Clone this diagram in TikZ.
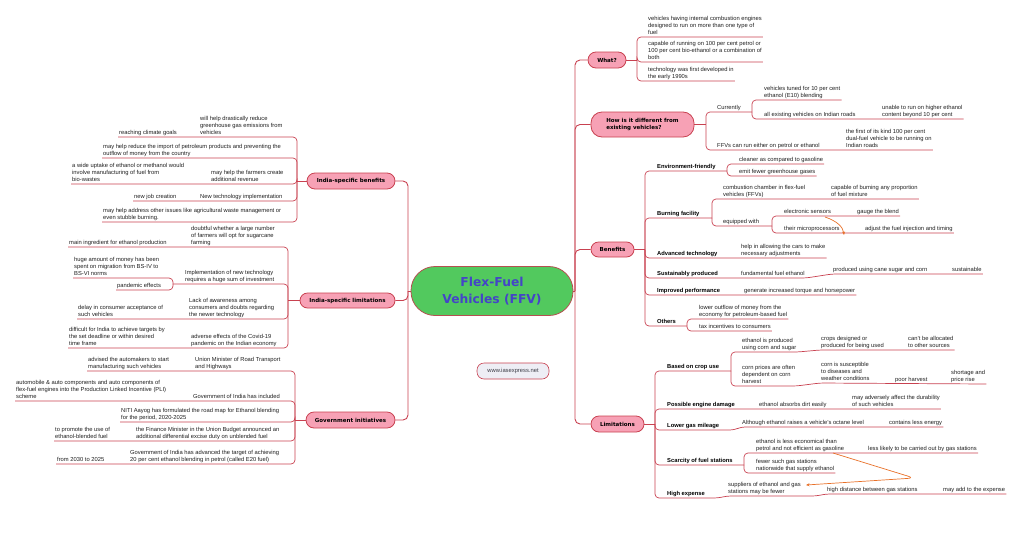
\documentclass[tikz,border=0pt]{standalone}
\usepackage{fontspec}
\setmainfont{Liberation Sans}
\newfontfamily\dvfont{DejaVu Sans}
\usetikzlibrary{arrows.meta}
\definecolor{lc}{RGB}{200,65,80}
\definecolor{pinkf}{RGB}{247,161,181}
\definecolor{greenf}{RGB}{82,201,94}
\definecolor{bluet}{RGB}{68,68,200}
\definecolor{arrc}{RGB}{232,112,40}
\definecolor{wmf}{RGB}{238,238,245}
\definecolor{txc}{RGB}{30,30,30}
\definecolor{cbord}{RGB}{180,80,80}
\begin{document}
\begin{tikzpicture}[x=1pt,y=-1pt,
 tx/.style={anchor=south west, align=left, inner xsep=1pt, inner ysep=1.2pt, text depth=1.3pt, font=\fontsize{5.8}{6.7}\selectfont, text=txc},
 bx/.style={tx, font=\fontsize{5.8}{6.7}\selectfont\bfseries, text=black},
 mainnode/.style={draw=lc, fill=pinkf, line width=0.8pt, font=\dvfont\bfseries\fontsize{5.5}{6.6}\selectfont, inner sep=0pt, align=left, text=black},
 trunk/.style={draw=lc, line width=0.9pt, rounded corners=5pt},
 br/.style={draw=lc, line width=0.7pt, rounded corners=4pt},
 arr/.style={draw=arrc, line width=0.7pt, -{Stealth[length=3.5pt,width=3pt]}},
]
\useasboundingbox (0,0) rectangle (1024,549);

% central and main nodes
\node[draw=cbord, fill=greenf, line width=0.8pt, rounded corners=24pt, minimum width=162pt, minimum height=49pt, font=\dvfont\bfseries\fontsize{12.3}{17}\selectfont, text=bluet, align=center, inner sep=0pt] (c) at (492,291) {Flex-Fuel\\Vehicles (FFV)};
\node[mainnode, minimum width=38pt, minimum height=16pt, rounded corners=8pt] (what) at (607,60) {What?};
\node[mainnode, minimum width=103pt, minimum height=25pt, rounded corners=11pt] (how) at (642.5,124.5) {How is it different from\\existing vehicles?};
\node[mainnode, minimum width=43pt, minimum height=15pt, rounded corners=7.5pt] (ben) at (612.5,249.5) {Benefits};
\node[mainnode, minimum width=53pt, minimum height=16pt, rounded corners=8pt] (lim) at (617.5,424) {Limitations};
\node[mainnode, minimum width=88pt, minimum height=16pt, rounded corners=8pt] (ib) at (351,181) {India-specific benefits};
\node[mainnode, minimum width=95pt, minimum height=15pt, rounded corners=7.5pt] (il) at (347.5,300.5) {India-specific limitations};
\node[mainnode, minimum width=89pt, minimum height=16pt, rounded corners=8pt] (gi) at (350.5,420) {Government initiatives};
\node[draw=lc, fill=wmf, line width=0.6pt, rounded corners=7pt, minimum width=72pt, minimum height=16pt, inner sep=0pt, font=\fontsize{5.8}{6.7}\selectfont, text={rgb,255:red,60;green,60;blue,70}] (wm) at (513,371) {www.iasexpress.net};

% What?
\node[tx] (w1) at (647,37) {vehicles having internal combustion engines\\designed to run on more than one type of\\fuel};
\node[tx] (w2) at (647,62) {capable of running on 100 per cent petrol or\\100 per cent bio-ethanol or a combination of\\both};
\node[tx] (w3) at (647,81) {technology was first developed in\\the early 1990s};

% How
\node[tx] (h1) at (716,112) {Currently};
\node[tx] (h11) at (763,100) {vehicles tuned for 10 per cent\\ethanol (E10) blending};
\node[tx] (h12) at (763,119) {all existing vehicles on Indian roads};
\node[tx] (h121) at (881,119) {unable to run on higher ethanol\\content beyond 10 per cent};
\node[tx] (h2) at (716,150) {FFVs can run either on petrol or ethanol};
\node[tx] (h21) at (845,150) {the first of its kind 100 per cent\\dual-fuel vehicle to be running on\\Indian roads};

% Benefits
\node[bx] (b1) at (656,171) {Environment-friendly};
\node[tx] (b11) at (738,164) {cleaner as compared to gasoline};
\node[tx] (b12) at (738,176) {emit fewer greenhouse gases};
\node[bx] (b2) at (656,218) {Burning facility};
\node[tx] (b21) at (722,199) {combustion chamber in flex-fuel\\vehicles (FFVs)};
\node[tx] (b211) at (830,199) {capable of burning any proportion\\of fuel mixture};
\node[tx] (b22) at (722,226) {equipped with};
\node[tx] (b221) at (783,216) {electronic sensors};
\node[tx] (b2211) at (856,216) {gauge the blend};
\node[tx] (b222) at (783,233) {their microprocessors};
\node[tx] (b2221) at (864,233) {adjust the fuel injection and timing};
\node[bx] (b3) at (656,258) {Advanced technology};
\node[tx] (b31) at (740,258) {help in allowing the cars to make\\necessary adjustments};
\node[bx] (b4) at (656,278) {Sustainably produced};
\node[tx] (b41) at (740,278) {fundamental fuel ethanol};
\node[tx] (b411) at (832,274) {produced using cane sugar and corn};
\node[tx] (b4111) at (951,274) {sustainable};
\node[bx] (b5) at (656,295) {Improved performance};
\node[tx] (b51) at (743,295) {generate increased torque and horsepower};
\node[bx] (b6) at (656,326) {Others};
\node[tx] (b61) at (698,319) {lower outflow of money from the\\economy for petroleum-based fuel};
\node[tx] (b62) at (698,331) {tax incentives to consumers};

% Limitations
\node[bx] (l1) at (666,371) {Based on crop use};
\node[tx] (l11) at (741,352) {ethanol is produced\\using corn and sugar};
\node[tx] (l111) at (820,350) {crops designed or\\produced for being used};
\node[tx] (l1111) at (907,350) {can't be allocated\\to other sources};
\node[tx] (l12) at (741,386) {corn prices are often\\dependent on corn\\harvest};
\node[tx] (l121) at (820,383) {corn is susceptible\\to diseases and\\weather conditions};
\node[tx] (l1211) at (894,384) {poor harvest};
\node[tx] (l12111) at (950,384) {shortage and\\price rise};
\node[bx] (l2) at (666,409) {Possible engine damage};
\node[tx] (l21) at (758,409) {ethanol absorbs dirt easily};
\node[tx] (l211) at (851,409) {may adversely affect the durability\\of such vehicles};
\node[bx] (l3) at (666,430) {Lower gas mileage};
\node[tx] (l31) at (741,427) {Although ethanol raises a vehicle's octane level};
\node[tx] (l311) at (888,427) {contains less energy};
\node[bx] (l4) at (666,465) {Scarcity of fuel stations};
\node[tx] (l41) at (755,453) {ethanol is less economical than\\petrol and not efficient as gasoline};
\node[tx] (l411) at (867,453) {less likely to be carried out by gas stations};
\node[tx] (l42) at (755,473) {fewer such gas stations\\nationwide that supply ethanol};
\node[bx] (l5) at (666,498) {High expense};
\node[tx] (l51) at (727,496) {suppliers of ethanol and gas\\stations may be fewer};
\node[tx] (l511) at (826,494) {high distance between gas stations};
\node[tx] (l5111) at (942,494) {may add to the expense};

% India-specific benefits
\node[tx] (ib1) at (199,137) {will help drastically reduce\\greenhouse gas emissions from\\vehicles};
\node[tx] (ib11) at (118,137) {reaching climate goals};
\node[tx] (ib2) at (102,158) {may help reduce the import of petroleum products and preventing the\\outflow of money from the country};
\node[tx] (ib3) at (210,184) {may help the farmers create\\additional revenue};
\node[tx] (ib31) at (71,184) {a wide uptake of ethanol or methanol would\\involve manufacturing of fuel from\\bio-wastes};
\node[tx] (ib4) at (199,201) {New technology implementation};
\node[tx] (ib41) at (133,201) {new job creation};
\node[tx] (ib5) at (102,222) {may help address other issues like agricultural waste management or\\even stubble burning.};

% India-specific limitations
\node[tx] (il1) at (190,247) {doubtful whether a large number\\of farmers will opt for sugarcane\\farming};
\node[tx] (il11) at (68,247) {main ingredient for ethanol production};
\node[tx] (il2) at (184,284) {Implementation of new technology\\requires a huge sum of investment};
\node[tx] (il21) at (73,278) {huge amount of money has been\\spent on migration from BS-IV to\\BS-VI norms};
\node[tx] (il22) at (116,290) {pandemic effects};
\node[tx] (il3) at (188,319) {Lack of awareness among\\consumers and doubts regarding\\the newer technology};
\node[tx] (il31) at (77,319) {delay in consumer acceptance of\\such vehicles};
\node[tx] (il4) at (190,348) {adverse effects of the Covid-19\\pandemic on the Indian economy};
\node[tx] (il41) at (68,348) {difficult for India to achieve targets by\\the set deadline or within desired\\time frame};

% Government initiatives
\node[tx] (g1) at (194,371) {Union Minister of Road Transport\\and Highways};
\node[tx] (g11) at (87,371) {advised the automakers to start\\manufacturing such vehicles};
\node[tx] (g2) at (192,401) {Government of India has included};
\node[tx] (g21) at (15,401) {automobile \& auto components and auto components of\\flex-fuel engines into the Production Linked Incentive (PLI)\\scheme};
\node[tx] (g3) at (120,422) {NITI Aayog has formulated the road map for Ethanol blending\\for the period, 2020-2025};
\node[tx] (g4) at (135,441) {the Finance Minister in the Union Budget announced an\\additional differential excise duty on unblended fuel};
\node[tx] (g41) at (54,441) {to promote the use of\\ethanol-blended fuel};
\node[tx] (g5) at (129,464) {Government of India has advanced the target of achieving\\20 per cent ethanol blending in petrol (called E20 fuel)};
\node[tx] (g51) at (56,464) {from 2030 to 2025};

% trunks
\coordinate (lt) at (408,291);
\coordinate (rt) at (575,291);
\draw[trunk] (c.west) -- (lt);
\draw[trunk] (lt) |- (ib.east);
\draw[trunk] (lt) |- (il.east);
\draw[trunk] (lt) |- (gi.east);
\draw[trunk] (c.east) -- (rt);
\draw[trunk] (rt) |- (what.west);
\draw[trunk] (rt) |- (how.west);
\draw[trunk] (rt) |- (ben.west);
\draw[trunk] (rt) |- (lim.west);

% What? branches
\coordinate (jw) at (637,60);
\draw[trunk] (what.east) -- (jw);
\draw[br] (jw) |- (w1.south east);
\draw[br] (jw) |- (w2.south east);
\draw[br] (jw) |- (w3.south east);

% How branches
\coordinate (jh) at (706,124.5);
\coordinate (jc) at (752,112);
\draw[trunk] (how.east) -- (jh);
\draw[br] (jh) |- (jc);
\draw[br] (jc) |- (h11.south east);
\draw[br] (jc) |- (h121.south east);
\draw[br] (jh) |- (h21.south east);

% Benefits branches
\coordinate (jb) at (645,249.5);
\coordinate (jb1) at (727,171);
\coordinate (jb2) at (712,218);
\coordinate (jb22) at (772,226);
\coordinate (jb6) at (687,326);
\draw[trunk] (ben.east) -- (jb);
\draw[br] (jb) |- (jb1);
\draw[br] (jb1) |- (b11.south east);
\draw[br] (jb1) |- (b12.south east);
\draw[br] (jb) |- (jb2);
\draw[br] (jb2) |- (b211.south east);
\draw[br] (jb2) |- (jb22);
\draw[br] (jb22) |- (b2211.south east);
\draw[br] (jb22) |- (b2221.south east);
\draw[br] (jb) |- (b31.south east);
\draw[br] (jb) |- (b41.south east) -- (b411.south west) -- (b4111.south east);
\draw[br] (jb) |- (b51.south east);
\draw[br] (jb) |- (jb6);
\draw[br] (jb6) |- (b61.south east);
\draw[br] (jb6) |- (b62.south east);

% Limitations branches
\coordinate (jl) at (655,424);
\coordinate (jl1) at (731,371);
\coordinate (jl4) at (744,465);
\draw[trunk] (lim.east) -- (jl);
\draw[br] (jl) |- (jl1);
\draw[br] (jl1) |- (l11.south east) -- (l111.south west) -- (l1111.south east);
\draw[br] (jl1) |- (l12.south east) -- (l121.south west) -- (l12111.south east);
\draw[br] (jl) |- (l211.south east);
\draw[br] (jl) |- (734,430) -- (l31.south west) -- (l311.south east);
\draw[br] (jl) |- (jl4);
\draw[br] (jl4) |- (l411.south east);
\draw[br] (jl4) |- (l42.south east);
\draw[br] (jl) |- (718,498) -- (l51.south west) -- (816,496) -- (l511.south west) -- (l5111.south east);

% left branches
\coordinate (jib) at (297,181);
\draw[trunk] (ib.west) -- (jib);
\draw[br] (jib) |- (ib11.south west);
\draw[br] (jib) |- (ib2.south west);
\draw[br] (jib) |- (ib31.south west);
\draw[br] (jib) |- (ib41.south west);
\draw[br] (jib) |- (ib5.south west);

\coordinate (jil) at (288,300.5);
\coordinate (jil2) at (173,284);
\draw[trunk] (il.west) -- (jil);
\draw[br] (jil) |- (il11.south west);
\draw[br] (jil) |- (jil2);
\draw[br] (jil2) |- (il21.south west);
\draw[br] (jil2) |- (il22.south west);
\draw[br] (jil) |- (il31.south west);
\draw[br] (jil) |- (il41.south west);

\coordinate (jgi) at (295,420);
\draw[trunk] (gi.west) -- (jgi);
\draw[br] (jgi) |- (g11.south west);
\draw[br] (jgi) |- (g21.south west);
\draw[br] (jgi) |- (g3.south west);
\draw[br] (jgi) |- (g41.south west);
\draw[br] (jgi) |- (g51.south west);

% orange relation arrows
\coordinate (a1s) at (825,217);
\coordinate (a1e) at (844,235);
\draw[arr] (a1s) .. controls (837,221) and (843,227) .. (a1e);
\coordinate (a2s) at (833,453);
\coordinate (a2m) at (914,478);
\coordinate (a2e) at (806,485);
\draw[arr, rounded corners=6pt] (a2s) -- (a2m) -- (a2e);
\end{tikzpicture}
\end{document}
